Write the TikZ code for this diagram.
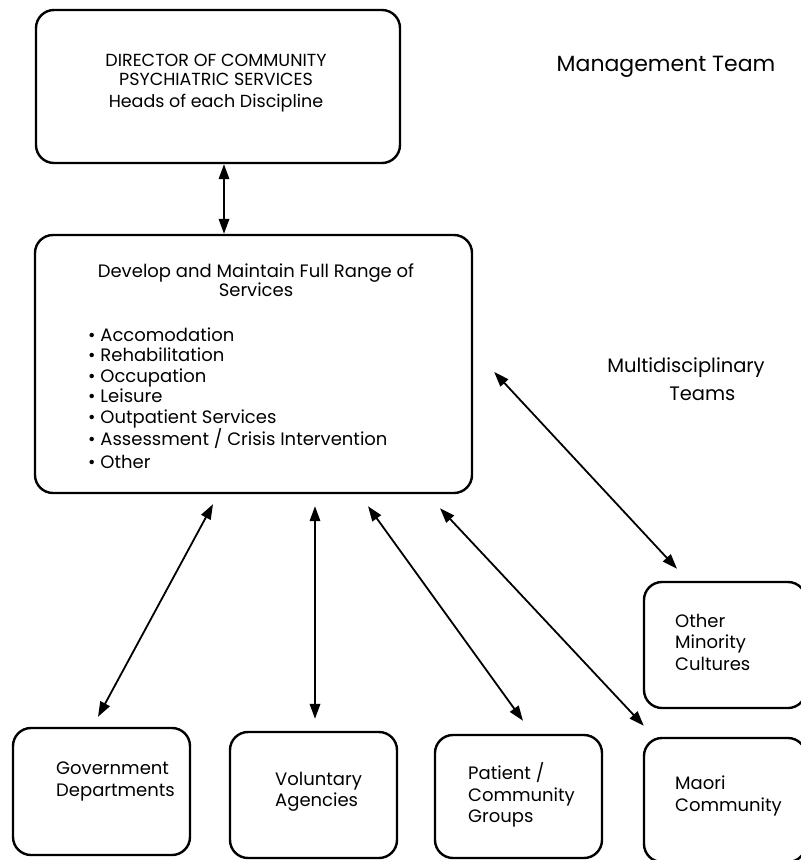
\documentclass[tikz,border=0pt]{standalone}
\usepackage{fontspec}
\setmainfont{Poppins}
\usetikzlibrary{arrows.meta}

\tikzset{
  unit/.style={draw, line width=2.4pt, rounded corners=18pt, inner sep=0pt},
  link/.style={{Triangle[length=15pt,width=10.5pt]}-{Triangle[length=15pt,width=10.5pt]}, line width=1.8pt},
  lbl/.style={inner sep=0pt, font=\fontsize{18}{21.5}\selectfont}
}

\begin{document}
\begin{tikzpicture}[x=1pt, y=-1pt]
\useasboundingbox[fill=white] (0,0) rectangle (801,860);
% boxes
\node[unit, minimum width=364pt, minimum height=153pt] (head) at (218,86.5) {};
\node[unit, minimum width=437pt, minimum height=258pt] (serv) at (253.5,364) {};
\node[unit, minimum width=177pt, minimum height=127pt] (govt) at (101.5,791.5) {};
\node[unit, minimum width=167pt, minimum height=126pt] (vol) at (313.5,795) {};
\node[unit, minimum width=167pt, minimum height=123pt] (pat) at (518.5,796.5) {};
\node[unit, minimum width=162pt, minimum height=124pt] (maori) at (725,800) {};
\node[unit, minimum width=162pt, minimum height=126pt] (other) at (725,645) {};
% texts
\node[lbl, align=center, font=\fontsize{17.5}{19}\selectfont] (headtxt) at (216,83)
  {DIRECTOR OF COMMUNITY\\ PSYCHIATRIC SERVICES\\[3pt] Heads of each Discipline};
\node[lbl, font=\fontsize{22}{24}\selectfont] (mgmt) at (666,67) {Management Team};
\node[lbl, align=left, font=\fontsize{19.5}{28}\selectfont] (multi) at (686,379)
  {Multidisciplinary\\\hspace*{62pt}Teams};
\node[lbl, align=center, font=\fontsize{18}{17.5}\selectfont] (servtitle) at (256,280)
  {Develop and Maintain Full Range of\\Services};
\node[lbl, align=left, anchor=west, font=\fontsize{18}{20.5}\selectfont] (servlist) at (88,398)
  {\textbullet\ Accomodation\\ \textbullet\ Rehabilitation\\ \textbullet\ Occupation\\
   \textbullet\ Leisure\\ \textbullet\ Outpatient Services\\
   \textbullet\ Assessment~/ Crisis Intervention\\[2pt] \textbullet\ Other};
\node[lbl, align=left, anchor=west] (govtxt) at (56,781.5) {Government\\Departments};
\node[lbl, align=left, anchor=west] (voltxt) at (275,792) {Voluntary\\Agencies};
\node[lbl, align=left, anchor=west] (pattxt) at (468,795) {Patient /\\Community\\Groups};
\node[lbl, align=left, anchor=west] (othertxt) at (675,642) {Other\\Minority\\Cultures};
\node[lbl, align=left, anchor=west] (maoritxt) at (675,796) {Maori\\Community};
% connectors
\draw[link] ([xshift=6pt]head.south) -- ([xshift=6pt]head.south |- serv.north);
\draw[link] ([xshift=-40.5pt,yshift=-10pt]serv.south) -- ([xshift=-3.5pt,yshift=10pt]govt.north);
\draw[link] ([xshift=61.5pt,yshift=-12pt]serv.south) -- ([xshift=1.5pt,yshift=12pt]vol.north);
\draw[link] ([xshift=114.5pt,yshift=-12pt]serv.south) -- ([xshift=4.5pt,yshift=13pt]pat.north);
\draw[link] ([xshift=186.5pt,yshift=-14pt]serv.south) -- ([xshift=1pt,yshift=11pt]maori.north west);
\draw[link] ([xshift=21pt,yshift=-8pt]serv.east) -- ([xshift=-48pt,yshift=12pt]other.north);
\end{tikzpicture}
\end{document}
